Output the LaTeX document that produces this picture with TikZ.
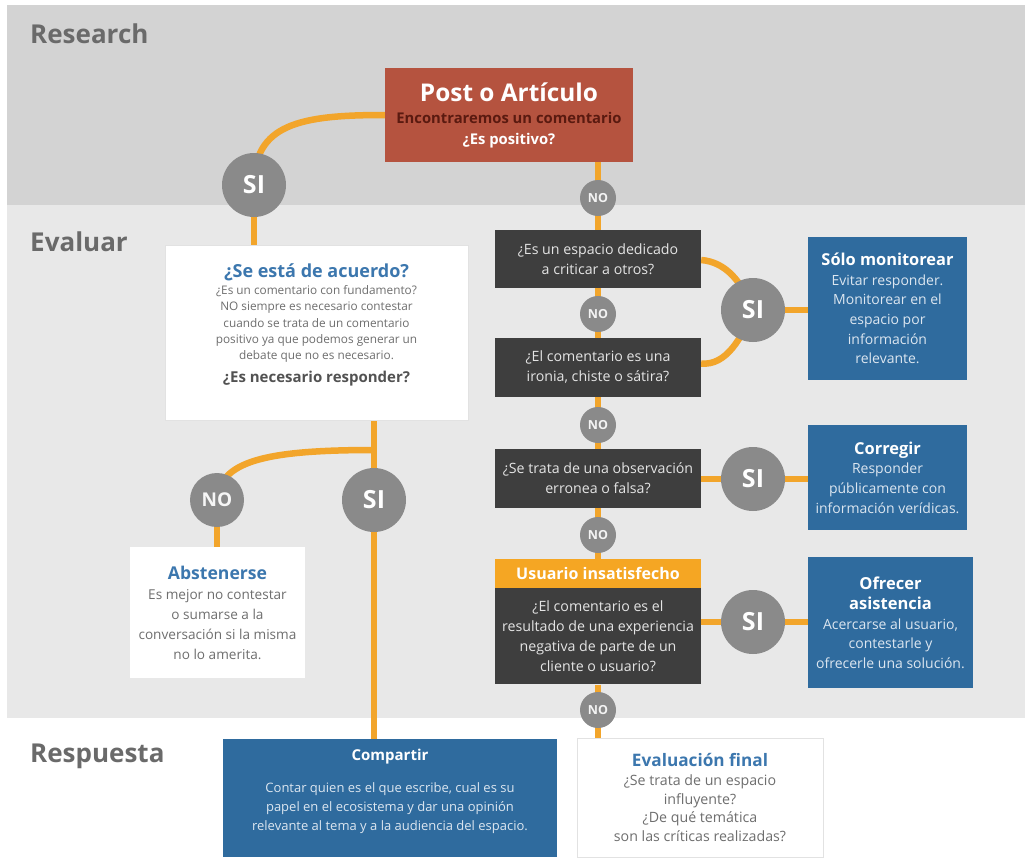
\documentclass[tikz,border=0pt]{standalone}
\usepackage{fontspec}
\setmainfont{Open Sans}
\pgfdeclarelayer{back}
\pgfdeclarelayer{lines}
\pgfsetlayers{back,lines,main}

\definecolor{bandA}{HTML}{D3D3D3}
\definecolor{bandB}{HTML}{E8E8E8}
\definecolor{flowc}{HTML}{F2A52B}
\definecolor{redc}{HTML}{B5533F}
\definecolor{maroonc}{HTML}{5A1A10}
\definecolor{darkc}{HTML}{3E3E3E}
\definecolor{darktxt}{HTML}{E4E4E4}
\definecolor{bluec}{HTML}{2F6B9E}
\definecolor{bluetxt}{HTML}{DCE6F0}
\definecolor{titleblue}{HTML}{3C77AE}
\definecolor{circc}{HTML}{8A8A8A}
\definecolor{headc}{HTML}{6A6A6A}
\definecolor{bodyc}{HTML}{6E6E6E}
\definecolor{edgec}{HTML}{E2E2E2}
\definecolor{hdrorange}{HTML}{F5A623}

\begin{document}
\begin{tikzpicture}[x=1pt,y=-1pt,
  flow/.style={draw=flowc, line width=6.5pt},
  bandlabel/.style={anchor=base west, inner sep=0pt, text=headc,
    font=\bfseries\fontsize{26}{26}\selectfont},
  box/.style={rectangle, inner sep=0pt, align=center},
  darkq/.style={box, fill=darkc, minimum width=206pt, text=darktxt,
    font=\fontsize{14.2}{20}\selectfont},
  bluebox/.style={box, fill=bluec, text=bluetxt,
    font=\fontsize{14}{19.6}\selectfont},
  whitebox/.style={box, fill=white, draw=edgec, line width=0.6pt},
  graytext/.style={align=center, inner sep=0pt, text=bodyc},
  sicirc/.style={circle, fill=circc, minimum size=64pt, inner sep=0pt,
    text=white, font=\bfseries\fontsize{25}{25}\selectfont},
  nocirc/.style={circle, fill=circc, minimum size=36pt, inner sep=0pt,
    text=white!90!circc, font=\bfseries\fontsize{12.5}{12.5}\selectfont},
  hdr/.style={box, fill=hdrorange, text=white,
    font=\bfseries\fontsize{16}{16}\selectfont},
]
\newcommand{\wtitle}{\color{white}\bfseries\fontsize{16.4}{16.4}\selectfont}
\newcommand{\btitle}{\color{titleblue}\bfseries\fontsize{17.6}{17.6}\selectfont}

\useasboundingbox (0,0) rectangle (1030,862);

% background bands
\begin{pgfonlayer}{back}
  \fill[white] (0,0) rectangle (1030,862);
  \fill[bandA] (7,5) rectangle (1025,205);
  \fill[bandB] (7,205) rectangle (1025,718);
\end{pgfonlayer}

% section labels
\node[bandlabel] (lab-research) at (30,43) {Research};
\node[bandlabel] (lab-evaluar) at (30,251) {Evaluar};
\node[bandlabel] (lab-respuesta) at (30,762) {Respuesta};

% start
\node[box, fill=redc, minimum width=248pt, minimum height=94pt, text=white,
  font=\bfseries\fontsize{14.8}{20.5}\selectfont] (post) at (509,115)
  {{\fontsize{24.4}{24.4}\selectfont Post o Artículo}\\[2pt]
   {\color{maroonc}Encontraremos un comentario}\\
   ¿Es positivo?};

% left branch
\node[sicirc] (si0) at (254,185) {SI};
\node[whitebox, minimum width=303pt, minimum height=175pt] (acuerdo) at (316.5,332.5) {};
\node[graytext, font=\fontsize{11.8}{16.2}\selectfont] (acuerdo-txt) at (316.5,325)
  {{\color{titleblue}\bfseries\fontsize{18}{18}\selectfont ¿Se está de acuerdo?}\\[1pt]
   ¿Es un comentario con fundamento?\\
   NO siempre es necesario contestar\\
   cuando se trata de un comentario\\
   positivo ya que podemos generar un\\
   debate que no es necesario.\\[7pt]
   {\color{black!68}\bfseries\fontsize{15}{15}\selectfont ¿Es necesario responder?}};
\node[sicirc] (si4) at (374,500) {SI};
\node[circle, fill=circc, minimum size=54pt, inner sep=0pt, text=white!92!circc,
  font=\bfseries\fontsize{19}{19}\selectfont] (no5) at (217,500) {NO};
\node[whitebox, draw=none, minimum width=175pt, minimum height=131pt,
  text=bodyc, font=\fontsize{13.6}{20}\selectfont] (abst) at (217.5,612.5)
  {{\btitle Abstenerse}\\
   Es mejor no contestar\\
   o sumarse a la\\
   conversación si la misma\\
   no lo amerita.};
\node[box, fill=bluec, minimum width=334pt, minimum height=118pt] (compartir) at (390,798) {};
\node[align=center, inner sep=0pt, text=bluetxt, font=\fontsize{13}{18.6}\selectfont]
  (compartir-txt) at (390,791)
  {{\color{white}\bfseries\fontsize{15}{15}\selectfont Compartir}\\[14pt]
   Contar quien es el que escribe, cual es su\\
   papel en el ecosistema y dar una opinión\\
   relevante al tema y a la audiencia del espacio.};

% right chain of questions
\node[nocirc] (no0) at (598,198) {NO};
\node[darkq, minimum height=58pt] (q1) at (598,259) {¿Es un espacio dedicado\\a criticar a otros?};
\node[nocirc] (no1) at (598,314) {NO};
\node[darkq, minimum height=59pt] (q2) at (598,367.5) {¿El comentario es una\\ironia, chiste o sátira?};
\node[nocirc] (no2) at (598,425) {NO};
\node[darkq, minimum height=59pt] (q3) at (598,478.5) {¿Se trata de una observación\\erronea o falsa?};
\node[nocirc] (no3) at (598,535) {NO};
\node[hdr, minimum width=206pt, minimum height=29pt] (usuario) at (598,573.5) {Usuario insatisfecho};
\node[darkq, minimum height=96pt, anchor=north] (q4) at (usuario.south)
  {¿El comentario es el\\resultado de una experiencia\\negativa de parte de un\\cliente o usuario?};
\node[nocirc] (no4) at (598,710) {NO};
\node[whitebox, minimum width=246pt, minimum height=119pt,
  text=bodyc, font=\fontsize{14.2}{18.8}\selectfont] (final) at (700,797.5)
  {{\color{titleblue}\bfseries\fontsize{17.2}{17.2}\selectfont Evaluación final}\\
   ¿Se trata de un espacio\\
   influyente?\\
   ¿De qué temática\\
   son las críticas realizadas?};

% answers
\node[sicirc] (si1) at (753,310) {SI};
\node[bluebox, minimum width=159pt, minimum height=143pt] (monitor) at (887.5,308.5)
  {{\wtitle Sólo monitorear}\\
   Evitar responder.\\
   Monitorear en el\\
   espacio por\\
   información\\
   relevante.};
\node[sicirc] (si2) at (753,479) {SI};
\node[bluebox, minimum width=159pt, minimum height=105pt] (corregir) at (887.5,477.5)
  {{\wtitle Corregir}\\
   Responder\\
   públicamente con\\
   información verídicas.};
\node[sicirc] (si3) at (753,622) {SI};
\node[bluebox, minimum width=165pt, minimum height=131pt] (asist) at (890.5,622.5)
  {{\color{white}\bfseries\fontsize{16.5}{16.5}\selectfont Ofrecer}\\[1pt]
   {\color{white}\bfseries\fontsize{16.5}{16.5}\selectfont asistencia}\\
   Acercarse al usuario,\\
   contestarle y\\
   ofrecerle una solución.};

% connectors
\coordinate (fork) at (374,450);
\begin{pgfonlayer}{lines}
  \draw[flow] (post.west) .. controls (300,115) and (254,124) .. (si0.center);
  \draw[flow] (si0.center) -- (si0 |- acuerdo.north);
  \draw[flow] (si4 |- acuerdo.south) -- (si4 |- compartir.north);
  \draw[flow] (fork) .. controls (262,450) and (220,462) .. (no5.center);
  \draw[flow] (no5.center) -- (no5 |- abst.north);
  \draw[flow] (no0 |- post.south) -- (no0.center) -- (no0 |- q1.north);
  \draw[flow] (no1 |- q1.south) -- (no1.center) -- (no1 |- q2.north);
  \draw[flow] (no2 |- q2.south) -- (no2.center) -- (no2 |- q3.north);
  \draw[flow] (no3 |- q3.south) -- (no3.center) -- (no3 |- usuario.north);
  \draw[flow] (no4 |- q4.south) -- (no4.center) -- (no4 |- final.north);
  \draw[flow] ([yshift=-1pt]q1.east) .. controls (726,262) and (742,282) .. (si1.center);
  \draw[flow] ([yshift=4pt]q2.east) .. controls (726,366) and (742,338) .. (si1.center);
  \draw[flow] (si1.center) -- (si1 -| monitor.west);
  \draw[flow] (q3.east |- si2) -- (si2.center) -- (si2 -| corregir.west);
  \draw[flow] (q4.east |- si3) -- (si3.center) -- (si3 -| asist.west);
\end{pgfonlayer}
\end{tikzpicture}
\end{document}
